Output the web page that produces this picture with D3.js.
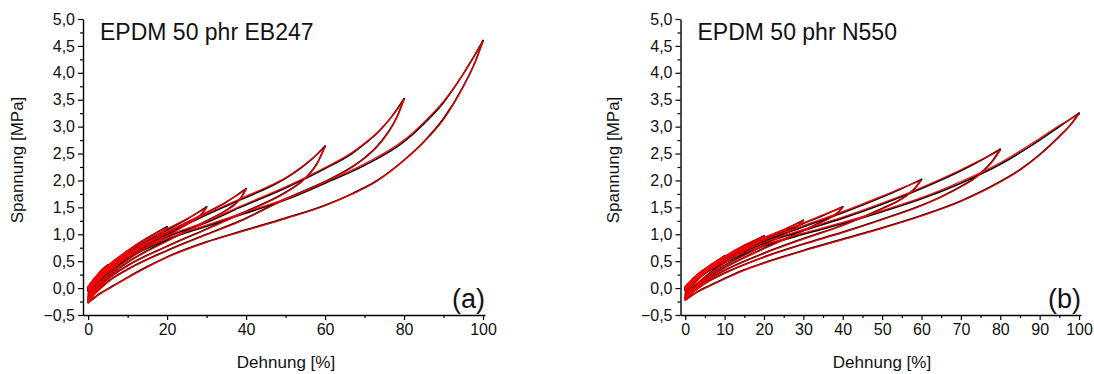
<!DOCTYPE html>
<html><head><meta charset="utf-8">
<script src="https://cdn.jsdelivr.net/npm/d3@7/dist/d3.min.js"></script>
<style>
body{margin:0;background:#fff;}
svg{display:block;font-family:"Liberation Sans",Arial,sans-serif;}
</style></head>
<body><svg id="c" width="1094" height="374"></svg>
<script>
// ---------- DATA ----------
const titles = ["EPDM 50 phr EB247", "EPDM 50 phr N550"];
const panelTags = ["(a)", "(b)"];
const xLabel = "Dehnung [%]";
const yLabel = "Spannung [MPa]";
const yTicks = [-0.5,0,0.5,1,1.5,2,2.5,3,3.5,4,4.5,5];
const xTicksA = [0,20,40,60,80,100];
const xTicksB = [0,10,20,30,40,50,60,70,80,90,100];

// Panel (a) measured (black), loading branches, strain amplitudes 2,5,10,20,30,40,60,80,100 %
const aLoadBlack = [
 [[0,0.02],[1,0.12],[2,0.21]],
 [[0,0.01],[2,0.21],[4,0.37],[5,0.43]],
 [[0,0],[2,0.19],[5,0.41],[8,0.58],[10,0.69]],
 [[0,0],[2,0.18],[5,0.4],[10,0.69],[15,0.93],[20,1.14]],
 [[0,-0.01],[5,0.38],[10,0.66],[20,1.08],[25,1.28],[30,1.51]],
 [[0,-0.02],[5,0.36],[10,0.63],[20,1.03],[30,1.4],[35,1.6],[40,1.85]],
 [[0,-0.03],[5,0.34],[10,0.6],[20,1.0],[30,1.36],[38.5,1.64],[46.5,1.9],[50,2.04],[54,2.24],[57,2.42],[60,2.64]],
 [[0,-0.04],[5,0.32],[10,0.58],[20,0.95],[30,1.22],[38.5,1.5],[50,1.86],[60,2.22],[66.8,2.5],[70,2.68],[73.5,2.9],[77,3.2],[80,3.52]],
 [[0,-0.05],[5,0.3],[10,0.55],[20,0.9],[30,1.15],[38.5,1.36],[50,1.64],[60,1.95],[70,2.28],[80,2.72],[85,3.05],[90,3.45],[95,3.98],[97,4.22],[100,4.6]]
];
const aUnloadBlack = [
 [[0,-0.06],[1,0.07],[2,0.21]],
 [[0,-0.11],[2,0.13],[4,0.35],[5,0.43]],
 [[0,-0.15],[2,0.08],[5,0.34],[8,0.56],[10,0.69]],
 [[0,-0.18],[2,0.03],[5,0.28],[10,0.59],[15,0.86],[17,0.95],[19,1.05],[20,1.14]],
 [[0,-0.2],[2,0],[5,0.24],[10,0.53],[20,0.98],[25,1.19],[27,1.28],[29,1.4],[30,1.51]],
 [[0,-0.22],[2,-0.03],[5,0.2],[10,0.48],[20,0.88],[30,1.25],[35,1.45],[37,1.55],[38.5,1.66],[40,1.85]],
 [[0,-0.24],[2,-0.05],[5,0.17],[10,0.42],[20,0.78],[30,1.1],[38.5,1.38],[50,1.78],[54,1.98],[56,2.12],[58,2.32],[60,2.64]],
 [[0,-0.25],[2,-0.08],[5,0.12],[10,0.35],[20,0.7],[30,1.0],[38.5,1.25],[50,1.66],[60,1.98],[65,2.17],[70,2.42],[73,2.62],[76,2.9],[78,3.15],[80,3.52]],
 [[0,-0.27],[3,-0.1],[6,0.03],[10,0.2],[15,0.4],[20,0.58],[25,0.73],[30,0.86],[38.5,1.05],[50,1.3],[60,1.54],[67,1.76],[73,1.99],[80,2.38],[85,2.72],[90,3.15],[95,3.75],[98,4.2],[100,4.6]]
];
// Panel (a) model (red)
const aLoadRed = [
 [[0,0.03],[1,0.13],[2,0.2]],
 [[0,0.02],[2,0.22],[4,0.38],[5,0.42]],
 [[0,0.01],[2,0.2],[5,0.42],[8,0.59],[10,0.68]],
 [[0,0.01],[2,0.19],[5,0.41],[10,0.7],[15,0.94],[20,1.12]],
 [[0,0],[5,0.39],[10,0.68],[20,1.1],[25,1.29],[30,1.49]],
 [[0,-0.01],[5,0.37],[10,0.65],[20,1.05],[30,1.41],[35,1.6],[40,1.83]],
 [[0,-0.02],[5,0.35],[10,0.62],[20,1.02],[30,1.38],[38.5,1.66],[46.5,1.92],[50,2.05],[54,2.25],[57,2.42],[60,2.62]],
 [[0,-0.03],[5,0.33],[10,0.6],[20,0.97],[30,1.24],[38.5,1.52],[50,1.88],[60,2.24],[66.8,2.52],[70,2.69],[73.5,2.91],[77,3.19],[80,3.5]],
 [[0,-0.04],[5,0.31],[10,0.57],[20,0.92],[30,1.17],[38.5,1.38],[50,1.66],[60,1.97],[70,2.31],[80,2.75],[85,3.08],[90,3.47],[95,3.98],[97,4.21],[100,4.58]]
];
const aUnloadRed = [
 [[0,-0.07],[1,0.06],[2,0.2]],
 [[0,-0.12],[2,0.12],[4,0.34],[5,0.42]],
 [[0,-0.16],[2,0.07],[5,0.33],[8,0.55],[10,0.68]],
 [[0,-0.19],[2,0.02],[5,0.27],[10,0.58],[15,0.85],[17,0.94],[19,1.04],[20,1.12]],
 [[0,-0.21],[2,-0.01],[5,0.23],[10,0.52],[20,0.97],[25,1.18],[27,1.27],[29,1.39],[30,1.49]],
 [[0,-0.23],[2,-0.04],[5,0.19],[10,0.47],[20,0.87],[30,1.24],[35,1.44],[37,1.54],[38.5,1.65],[40,1.83]],
 [[0,-0.25],[2,-0.06],[5,0.16],[10,0.41],[20,0.77],[30,1.09],[38.5,1.37],[50,1.77],[54,1.97],[56,2.11],[58,2.31],[60,2.62]],
 [[0,-0.26],[2,-0.09],[5,0.11],[10,0.34],[20,0.69],[30,0.99],[38.5,1.24],[50,1.65],[60,1.97],[65,2.16],[70,2.41],[73,2.61],[76,2.89],[78,3.14],[80,3.5]],
 [[0,-0.28],[3,-0.11],[6,0.02],[10,0.19],[15,0.39],[20,0.57],[25,0.72],[30,0.85],[38.5,1.04],[50,1.29],[60,1.53],[67,1.75],[73,1.98],[80,2.37],[85,2.71],[90,3.13],[95,3.74],[98,4.19],[100,4.58]]
];

// Panel (b) measured (black)
const bLoadBlack = [
 [[0,0.02],[1,0.1],[2,0.18]],
 [[0,0.01],[2,0.17],[4,0.3],[5,0.35]],
 [[0,0],[2,0.16],[5,0.35],[8,0.5],[10,0.6]],
 [[0,0],[2,0.15],[5,0.33],[10,0.58],[15,0.79],[20,0.97]],
 [[0,-0.01],[5,0.32],[10,0.57],[20,0.93],[25,1.08],[30,1.26]],
 [[0,-0.01],[5,0.31],[10,0.55],[20,0.9],[30,1.2],[35,1.35],[40,1.51]],
 [[0,-0.02],[5,0.3],[10,0.53],[20,0.87],[30,1.14],[40,1.4],[50,1.69],[55,1.85],[60,2.02]],
 [[0,-0.03],[5,0.29],[10,0.5],[20,0.83],[30,1.07],[40,1.3],[50,1.56],[60,1.85],[70,2.18],[75,2.37],[80,2.58]],
 [[0,-0.04],[5,0.27],[10,0.47],[20,0.78],[30,1.0],[40,1.2],[50,1.42],[60,1.66],[70,1.95],[80,2.3],[90,2.75],[95,3.0],[100,3.25]]
];
const bUnloadBlack = [
 [[0,-0.05],[1,0.06],[2,0.18]],
 [[0,-0.1],[2,0.11],[4,0.29],[5,0.35]],
 [[0,-0.13],[2,0.06],[5,0.29],[8,0.49],[10,0.6]],
 [[0,-0.15],[2,0.01],[5,0.21],[10,0.47],[15,0.72],[18,0.87],[20,0.97]],
 [[0,-0.17],[2,-0.02],[5,0.18],[10,0.42],[20,0.8],[25,1.0],[27,1.08],[29,1.18],[30,1.26]],
 [[0,-0.18],[2,-0.03],[5,0.15],[10,0.38],[20,0.74],[30,1.07],[34,1.21],[37,1.32],[39,1.42],[40,1.51]],
 [[0,-0.19],[2,-0.05],[5,0.12],[10,0.33],[20,0.65],[30,0.92],[40,1.17],[50,1.48],[54,1.62],[56,1.71],[58,1.83],[60,2.02]],
 [[0,-0.2],[2,-0.07],[5,0.09],[10,0.28],[20,0.58],[30,0.82],[40,1.04],[50,1.28],[60,1.54],[65,1.7],[70,1.89],[73,2.02],[76,2.2],[78,2.36],[80,2.58]],
 [[0,-0.22],[3,-0.07],[6,0.04],[10,0.18],[15,0.34],[20,0.47],[30,0.7],[40,0.91],[50,1.12],[60,1.35],[70,1.62],[80,1.98],[85,2.2],[90,2.48],[95,2.82],[98,3.05],[100,3.25]]
];
// Panel (b) model (red)
const bLoadRed = [
 [[0,0.03],[1,0.11],[2,0.17]],
 [[0,0.02],[2,0.18],[4,0.31],[5,0.34]],
 [[0,0.01],[2,0.17],[5,0.36],[8,0.51],[10,0.59]],
 [[0,0.01],[2,0.16],[5,0.34],[10,0.59],[15,0.8],[20,0.96]],
 [[0,0],[5,0.33],[10,0.58],[20,0.94],[25,1.09],[30,1.25]],
 [[0,0],[5,0.32],[10,0.56],[20,0.92],[30,1.21],[35,1.36],[40,1.5]],
 [[0,-0.01],[5,0.31],[10,0.55],[20,0.89],[30,1.16],[40,1.42],[50,1.71],[55,1.86],[60,2.0]],
 [[0,-0.02],[5,0.3],[10,0.52],[20,0.85],[30,1.09],[40,1.32],[50,1.58],[60,1.87],[70,2.2],[75,2.38],[80,2.56]],
 [[0,-0.03],[5,0.28],[10,0.49],[20,0.8],[30,1.02],[40,1.22],[50,1.44],[60,1.68],[70,1.98],[80,2.33],[90,2.78],[95,3.02],[100,3.23]]
];
const bUnloadRed = [
 [[0,-0.06],[1,0.05],[2,0.17]],
 [[0,-0.11],[2,0.1],[4,0.28],[5,0.34]],
 [[0,-0.14],[2,0.05],[5,0.28],[8,0.48],[10,0.59]],
 [[0,-0.16],[2,0],[5,0.2],[10,0.46],[15,0.71],[18,0.86],[20,0.96]],
 [[0,-0.18],[2,-0.03],[5,0.17],[10,0.41],[20,0.79],[25,0.99],[27,1.07],[29,1.17],[30,1.25]],
 [[0,-0.19],[2,-0.04],[5,0.14],[10,0.37],[20,0.73],[30,1.06],[34,1.2],[37,1.31],[39,1.41],[40,1.5]],
 [[0,-0.2],[2,-0.06],[5,0.11],[10,0.32],[20,0.64],[30,0.91],[40,1.16],[50,1.47],[54,1.61],[56,1.7],[58,1.82],[60,2.0]],
 [[0,-0.21],[2,-0.08],[5,0.08],[10,0.27],[20,0.57],[30,0.81],[40,1.03],[50,1.27],[60,1.53],[65,1.69],[70,1.88],[73,2.01],[76,2.19],[78,2.35],[80,2.56]],
 [[0,-0.23],[3,-0.08],[6,0.03],[10,0.17],[15,0.33],[20,0.46],[30,0.69],[40,0.9],[50,1.11],[60,1.34],[70,1.61],[80,1.97],[85,2.19],[90,2.47],[95,2.81],[98,3.04],[100,3.23]]
];

// ---------- DRAW ----------
const svg = d3.select("#c");
const yDom = [-0.5, 5.0];
const fmtY = v => d3.format(".1f")(v).replace(".", ",");

function panel(cfg) {
  const x = d3.scaleLinear().domain([cfg.x0, 100.5]).range([cfg.left, cfg.right]);
  const y = d3.scaleLinear().domain(yDom).range([315, 19]);
  const g = svg.append("g");

  const line = d3.line().x(d => x(d[0])).y(d => y(d[1])).curve(d3.curveMonotoneX);
  const curves = g.append("g").attr("fill", "none").attr("stroke-linejoin", "round").attr("stroke-linecap", "round");
  [...cfg.loadK, ...cfg.unloadK].forEach(c => curves.append("path").attr("d", line(c)).attr("stroke", "#000").attr("stroke-width", 1.6));
  [...cfg.loadR, ...cfg.unloadR].forEach(c => curves.append("path").attr("d", line(c)).attr("stroke", "#ff0000").attr("stroke-width", 1.2));

  const yMinor = d3.range(-0.25, 5.0, 0.5);
  g.append("g").attr("transform", `translate(${cfg.left},0)`)
    .call(d3.axisLeft(y).tickValues(yMinor).tickSize(3).tickFormat("").tickSizeOuter(0))
    .call(s => s.select(".domain").remove());
  g.append("g").attr("transform", `translate(0,315)`)
    .call(d3.axisBottom(x).tickValues(cfg.xMinor).tickSize(3).tickFormat("").tickSizeOuter(0))
    .call(s => s.select(".domain").remove());

  const ya = g.append("g").attr("transform", `translate(${cfg.left},0)`)
    .call(d3.axisLeft(y).tickValues(yTicks).tickSize(5).tickPadding(3).tickFormat(fmtY).tickSizeOuter(0));
  ya.selectAll("text").attr("font-size", 16).attr("fill", "#111").attr("font-family", "Liberation Sans, Arial, sans-serif");
  const xa = g.append("g").attr("transform", `translate(0,315)`)
    .call(d3.axisBottom(x).tickValues(cfg.xTicks).tickSize(5).tickPadding(4).tickFormat(d3.format("d")).tickSizeOuter(0));
  xa.selectAll("text").attr("font-size", 16).attr("fill", "#111").attr("font-family", "Liberation Sans, Arial, sans-serif");
  g.selectAll(".domain").attr("stroke-width", 1.4);
  g.selectAll(".tick line").attr("stroke-width", 1.2);

  g.append("text").attr("x", cfg.left + 17).attr("y", 40).attr("font-size", 23).attr("fill", "#111").text(cfg.title);
  g.append("text").attr("x", cfg.right).attr("y", 308).attr("text-anchor", "end").attr("font-size", 27).attr("fill", "#111").text(cfg.tag);
  g.append("text").attr("x", cfg.xLabelX).attr("y", 368).attr("text-anchor", "middle").attr("font-size", 17).attr("fill", "#111").text(xLabel);
  g.append("text").attr("transform", `translate(${cfg.yLabelX},160) rotate(-90)`).attr("text-anchor", "middle").attr("font-size", 17).attr("fill", "#111").text(yLabel);
}

panel({x0: -1.3, left: 83, right: 485, xTicks: xTicksA, xMinor: [10,30,50,70,90], title: titles[0], tag: panelTags[0],
  xLabelX: 286, yLabelX: 23, loadK: aLoadBlack, unloadK: aUnloadBlack, loadR: aLoadRed, unloadR: aUnloadRed});
panel({x0: -1.2, left: 680.5, right: 1081, xTicks: xTicksB, xMinor: [5,15,25,35,45,55,65,75,85,95], title: titles[1], tag: panelTags[1],
  xLabelX: 882, yLabelX: 619, loadK: bLoadBlack, unloadK: bUnloadBlack, loadR: bLoadRed, unloadR: bUnloadRed});
</script></body></html>
